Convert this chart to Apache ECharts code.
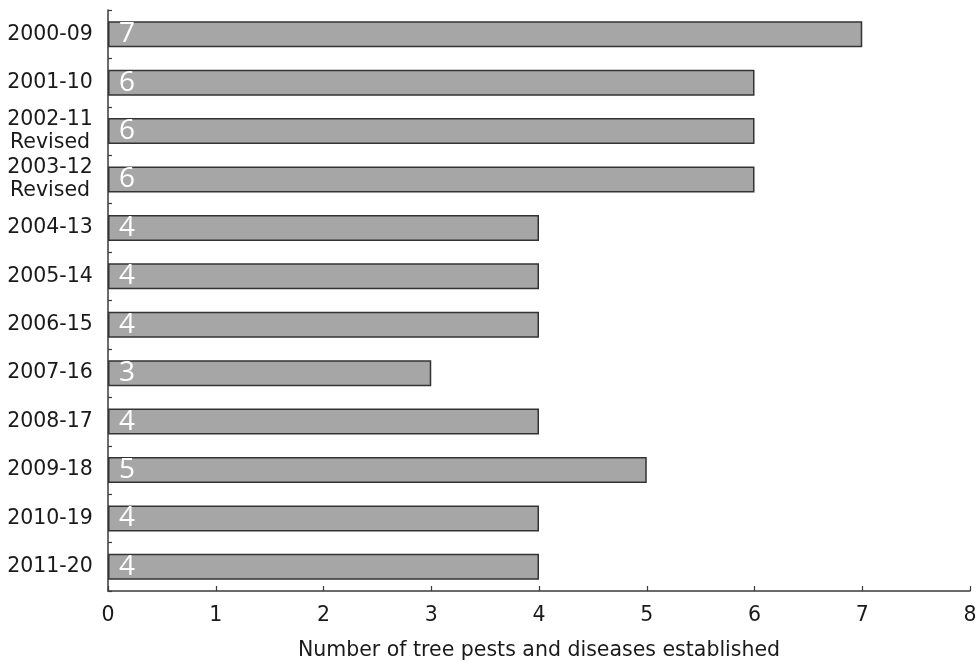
<!DOCTYPE html>
<html>
<head>
<meta charset="utf-8">
<style>
  html, body { margin: 0; padding: 0; background: #fff; }
  #chart { width: 977px; height: 662px; }
</style>
<script src="https://cdn.jsdelivr.net/npm/echarts@6/dist/echarts.min.js"></script>
</head>
<body>
<div id="chart"></div>
<script>
// Rolling ten-year periods and the count of tree pests and diseases established in each
const periods = [
  '2000-09', '2001-10', '2002-11\nRevised', '2003-12\nRevised',
  '2004-13', '2005-14', '2006-15', '2007-16',
  '2008-17', '2009-18', '2010-19', '2011-20'
];
const established = [7, 6, 6, 6, 4, 4, 4, 3, 4, 5, 4, 4];
const xTicks = [0, 1, 2, 3, 4, 5, 6, 7, 8];
const xTitle = 'Number of tree pests and diseases established';

const chart = echarts.init(document.getElementById('chart'), null, { renderer: 'canvas' });
const axisColor = '#3a3a3a';
const textColor = '#1a1a1a';
const font = 'DejaVu Sans, Verdana, sans-serif';
const fontSize = 20.5;

chart.setOption({
  animation: false,
  grid: { left: 108, right: 7, top: 10, bottom: 71, containLabel: false, outerBoundsMode: 'none' },
  xAxis: {
    type: 'value',
    min: xTicks[0],
    max: xTicks[xTicks.length - 1],
    interval: 1,
    name: xTitle,
    nameLocation: 'middle',
    nameGap: 49,
    nameTextStyle: { fontFamily: font, fontSize: fontSize, color: textColor },
    axisLine: { show: true, lineStyle: { color: axisColor, width: 1.5 } },
    axisTick: { show: true, inside: true, length: 5, lineStyle: { color: axisColor, width: 1.2 } },
    axisLabel: { fontFamily: font, fontSize: fontSize, color: textColor, margin: 14 },
    splitLine: { show: false }
  },
  yAxis: {
    type: 'category',
    data: periods,
    inverse: true,
    boundaryGap: true,
    axisLine: { show: true, lineStyle: { color: axisColor, width: 1.5 } },
    axisTick: { show: true, inside: true, length: 4, lineStyle: { color: axisColor, width: 1.2 } },
    axisLabel: {
      fontFamily: font, fontSize: fontSize, color: textColor,
      align: 'center', margin: 58, lineHeight: 23
    }
  },
  series: [{
    type: 'bar',
    data: established,
    barWidth: 26,
    itemStyle: { color: '#a6a6a6', borderColor: '#333', borderWidth: 1.5 },
    label: {
      show: true,
      position: 'insideLeft',
      distance: 11,
      color: '#fff',
      fontFamily: 'Open Sans, sans-serif',
      fontSize: 28,
      fontWeight: 'normal'
    }
  }]
});
</script>
</body>
</html>
